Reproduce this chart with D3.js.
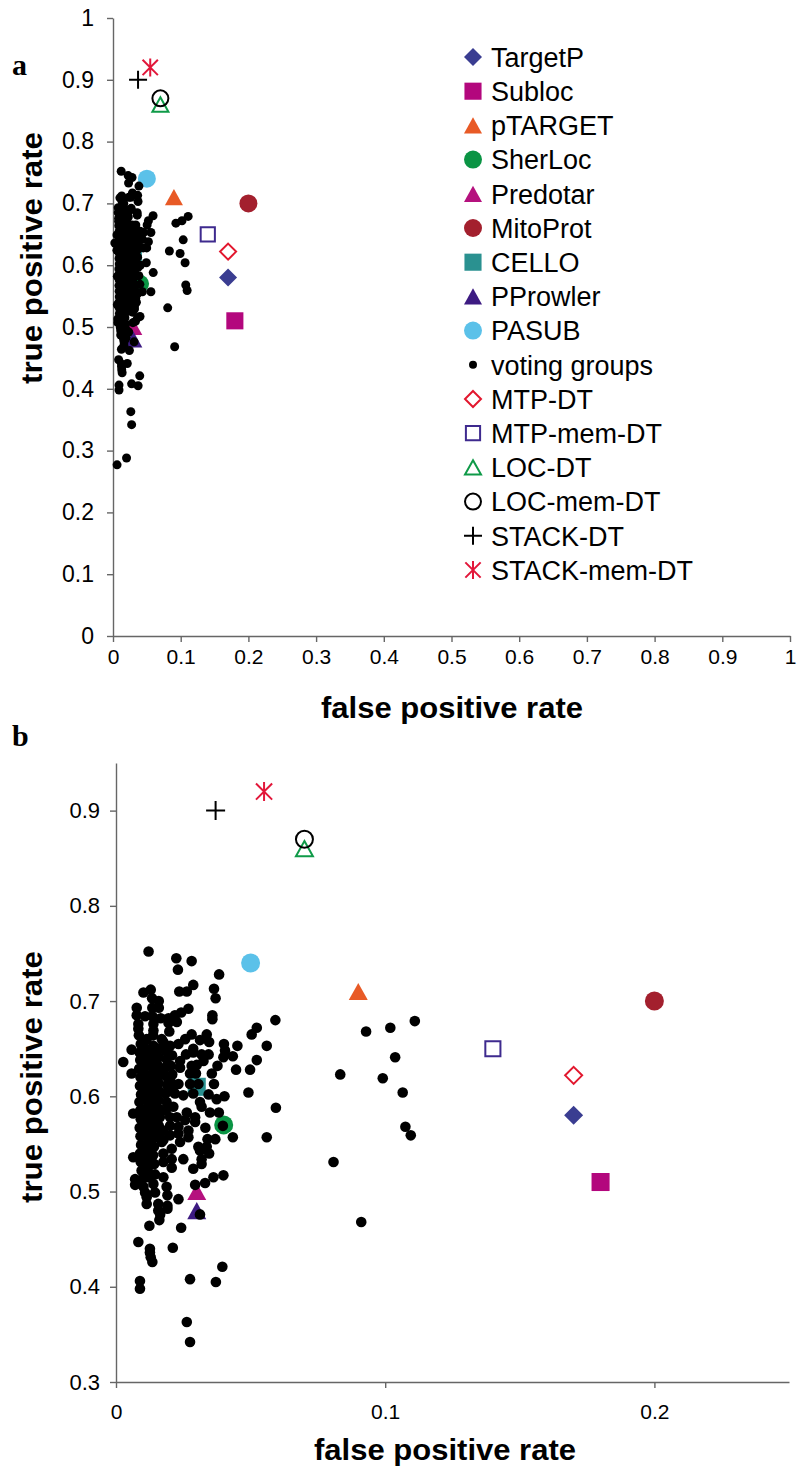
<!DOCTYPE html>
<html><head><meta charset="utf-8">
<script src="https://cdn.jsdelivr.net/npm/d3@7"></script>
<style>body{margin:0;background:#fff}svg{display:block}</style>
</head><body><svg id="c" width="802" height="1467"></svg>
<script>
// ---------- DATA ----------
const toolNames = ["TargetP","Subloc","pTARGET","SherLoc","Predotar","MitoProt","CELLO","PProwler","PASUB",
  "MTP-DT","MTP-mem-DT","LOC-DT","LOC-mem-DT","STACK-DT","STACK-mem-DT"];
const toolFpr = [0.17,0.18,0.09,0.04,0.03,0.20,0.03,0.03,0.05, 0.17,0.14,0.07,0.07,0.037,0.055];
const toolTpr = [0.58,0.51,0.71,0.57,0.50,0.70,0.61,0.48,0.74, 0.622,0.65,0.86,0.87,0.90,0.92];
const legendOrder = ["TargetP","Subloc","pTARGET","SherLoc","Predotar","MitoProt","CELLO","PProwler","PASUB",
  "voting groups","MTP-DT","MTP-mem-DT","LOC-DT","LOC-mem-DT","STACK-DT","STACK-mem-DT"];

// voting groups: [false positive rate, true positive rate]
const votingGroups = [
 [0.0121,0.752],[0.0224,0.745],[0.0230,0.733],[0.0281,0.742],[0.0383,0.728],[0.0287,0.717],[0.0235,0.710],[0.0263,0.710],
 [0.0364,0.713],[0.0370,0.703],[0.0102,0.709],[0.0129,0.712],[0.0134,0.703],[0.0159,0.700],[0.0135,0.693],[0.0159,0.693],
 [0.0077,0.693],[0.0077,0.685],[0.0108,0.684],[0.0135,0.684],[0.0166,0.682],[0.0195,0.682],[0.0219,0.685],[0.0242,0.688],
 [0.0269,0.692],[0.0226,0.678],[0.0195,0.677],[0.0083,0.676],[0.0083,0.671],[0.0139,0.676],[0.0139,0.669],[0.0198,0.668],
 [0.0358,0.685],[0.0358,0.681],[0.0592,0.680],[0.0523,0.672],[0.0504,0.665],[0.0281,0.665],[0.0257,0.660],[0.0232,0.655],
 [0.0337,0.665],[0.0346,0.657],[0.0312,0.659],[0.0401,0.655],[0.0451,0.653],[0.0560,0.653],[0.0114,0.660],[0.0170,0.660],
 [0.0176,0.657],[0.0139,0.653],[0.0201,0.653],[0.0287,0.650],[0.0058,0.649],
 [0.0027,0.636],[0.0058,0.624],[0.0064,0.582],[0.0064,0.536],[0.0071,0.513],[0.0071,0.507],[0.0405,0.648],[0.0399,0.641],
 [0.0434,0.642],[0.0523,0.638],[0.0446,0.628],[0.0498,0.628],[0.0492,0.604],[0.0594,0.588],[0.0560,0.557],[0.0434,0.557],
 [0.0399,0.517],[0.0362,0.515],[0.0331,0.509],[0.0294,0.507],[0.0250,0.534],[0.0287,0.524],[0.0318,0.534],[0.0318,0.529],
 [0.0346,0.540],[0.0369,0.555],[0.0340,0.555],[0.0332,0.567],[0.0403,0.600],[0.0374,0.597],[0.0364,0.613],[0.0344,0.602],
 [0.0382,0.583],[0.0349,0.583],[0.0397,0.569],[0.0377,0.632],[0.0356,0.624],[0.0344,0.644],[0.0318,0.644],[0.0287,0.646],
 [0.0260,0.644],[0.0281,0.632],[0.0300,0.633],[0.0325,0.637],[0.0238,0.637],[0.0238,0.630],[0.0275,0.624],[0.0297,0.624],
 [0.0232,0.613],[0.0275,0.613],[0.0306,0.613],[0.0219,0.603],[0.0250,0.601],[0.0287,0.603],[0.0312,0.594],[0.0318,0.589],
 [0.0213,0.589],[0.0201,0.578],[0.0226,0.578],[0.0263,0.583],[0.0257,0.575],[0.0294,0.578],[0.0294,0.573],[0.0269,0.564],
 [0.0269,0.557],[0.0232,0.568],[0.0232,0.561],[0.0201,0.569],[0.0201,0.559],[0.0176,0.564],[0.0176,0.554],[0.0207,0.545],
 [0.0238,0.552],[0.0170,0.552],[0.0176,0.540],[0.0207,0.534],[0.0176,0.531],[0.0145,0.518],[0.0176,0.515],[0.0207,0.525],
 [0.0306,0.547],[0.0312,0.543],[0.0337,0.547],[0.0188,0.505],[0.0139,0.508],
 [0.0085,0.664],[0.0092,0.655],[0.0088,0.646],[0.0090,0.638],[0.0086,0.629],[0.0091,0.620],[0.0089,0.611],[0.0093,0.602],
 [0.0087,0.594],[0.0090,0.585],[0.0092,0.576],[0.0088,0.567],[0.0091,0.558],[0.0093,0.549],[0.0089,0.540],[0.0092,0.531],
 [0.0095,0.522],[0.0098,0.513],[0.0102,0.505],
 [0.0113,0.650],[0.0111,0.641],[0.0114,0.632],[0.0110,0.623],[0.0112,0.614],[0.0115,0.605],[0.0111,0.596],[0.0113,0.587],
 [0.0116,0.578],[0.0112,0.569],[0.0114,0.560],[0.0117,0.551],[0.0113,0.542],[0.0116,0.533],[0.0118,0.524],[0.0120,0.515],
 [0.0138,0.664],[0.0137,0.646],[0.0135,0.637],[0.0139,0.628],[0.0136,0.619],[0.0134,0.610],[0.0138,0.601],[0.0136,0.592],
 [0.0140,0.583],[0.0137,0.574],[0.0135,0.565],[0.0139,0.556],[0.0141,0.547],[0.0138,0.538],[0.0142,0.529],
 [0.0155,0.650],[0.0159,0.641],[0.0156,0.632],[0.0160,0.623],[0.0158,0.614],[0.0162,0.605],[0.0157,0.596],[0.0160,0.587],
 [0.0163,0.578],[0.0159,0.569],[0.0161,0.560],
 [0.0184,0.648],[0.0188,0.639],[0.0182,0.630],[0.0186,0.621],[0.0190,0.612],[0.0184,0.603],[0.0188,0.594],[0.0185,0.585],
 [0.0208,0.643],[0.0204,0.632],[0.0209,0.623],[0.0206,0.614],[0.0211,0.605],
 [0.0108,0.499],[0.0114,0.494],[0.0114,0.487],[0.0145,0.499],[0.0191,0.496],[0.0232,0.492],[0.0157,0.487],[0.0157,0.480],
 [0.0191,0.485],[0.0191,0.482],[0.0164,0.476],[0.0161,0.470],[0.0124,0.464],[0.0242,0.462],[0.0312,0.476],[0.0083,0.447],
 [0.0126,0.440],[0.0126,0.436],[0.0129,0.431],[0.0135,0.426],[0.0211,0.441],[0.0395,0.421],[0.0275,0.408],[0.0371,0.405],
 [0.0089,0.406],[0.0089,0.398],[0.0263,0.363],[0.0275,0.342],
 [0.0929,0.668],[0.1019,0.672],[0.1110,0.679],[0.0833,0.623],[0.0991,0.619],[0.1037,0.641],[0.1065,0.604],[0.1075,0.568],
 [0.1095,0.559],[0.0808,0.531],[0.0911,0.468],
 [0.0060,0.277],[0.0200,0.288]
];

const aTicks = [0,0.1,0.2,0.3,0.4,0.5,0.6,0.7,0.8,0.9,1];
const aTickLabels = ["0","0.1","0.2","0.3","0.4","0.5","0.6","0.7","0.8","0.9","1"];
const bXTicks = [0,0.1,0.2];
const bXTickLabels = ["0","0.1","0.2"];
const bYTicks = [0.3,0.4,0.5,0.6,0.7,0.8,0.9];
const bYTickLabels = ["0.3","0.4","0.5","0.6","0.7","0.8","0.9"];

// ---------- STYLE ----------
const markerStyle = {
  "TargetP":{shape:"diamond",color:"#3a3d91",fill:true},
  "Subloc":{shape:"square",color:"#b3077d",fill:true},
  "pTARGET":{shape:"triangle",color:"#e85a26",fill:true},
  "SherLoc":{shape:"circle",color:"#0a9444",fill:true},
  "Predotar":{shape:"triangle",color:"#b5117e",fill:true},
  "MitoProt":{shape:"circle",color:"#a3202e",fill:true},
  "CELLO":{shape:"square",color:"#2a9190",fill:true},
  "PProwler":{shape:"triangle",color:"#3d1b82",fill:true},
  "PASUB":{shape:"circle",color:"#5bc1e9",fill:true},
  "voting groups":{shape:"dot",color:"#000",fill:true},
  "MTP-DT":{shape:"diamond",color:"#e2172e",fill:false},
  "MTP-mem-DT":{shape:"square",color:"#3e2a8e",fill:false},
  "LOC-DT":{shape:"triangle",color:"#0f9a48",fill:false},
  "LOC-mem-DT":{shape:"circle",color:"#000",fill:false},
  "STACK-DT":{shape:"plus",color:"#000",fill:false},
  "STACK-mem-DT":{shape:"asterisk",color:"#e2173a",fill:false}
};
const FONT = "'Liberation Sans', Arial, sans-serif";

function drawMarker(g, name, x, y, s) {
  const st = markerStyle[name];
  const c = st.color;
  let el;
  if (st.shape === "circle" || st.shape === "dot") {
    el = g.append("circle").attr("cx", x).attr("cy", y).attr("r", st.fill ? s : s - 1);
  } else {
    let d;
    if (st.shape === "diamond") { const k = st.fill ? s : s - 1; d = `M0,${-k}L${k},0L0,${k}L${-k},0Z`; }
    else if (st.shape === "square") { const k = st.fill ? s * 0.95 : s * 0.9 - 1; d = `M${-k},${-k}H${k}V${k}H${-k}Z`; }
    else if (st.shape === "triangle") { const k = st.fill ? s : s - 1; d = `M0,${-0.9*k}L${k},${0.9*k}L${-k},${0.9*k}Z`; }
    else if (st.shape === "plus") { d = `M${-s},0H${s}M0,${-s}V${s}`; }
    else if (st.shape === "asterisk") { const k = s * 0.85; d = `M0,${-s}V${s}M${-k},${-k}L${k},${k}M${k},${-k}L${-k},${k}`; }
    el = g.append("path").attr("d", d).attr("transform", `translate(${x},${y})`);
  }
  if (st.fill) el.attr("fill", c).attr("stroke", "none");
  else el.attr("fill", "none").attr("stroke", c).attr("stroke-width", 2);
}

const svg = d3.select("#c");
svg.append("rect").attr("width", 802).attr("height", 1467).attr("fill", "#fff");

function styleAxis(g, fs) {
  g.attr("font-size", fs).attr("font-family", FONT);
  g.select(".domain").attr("stroke", "#666").attr("stroke-width", 1.4);
  g.selectAll(".tick line").attr("stroke", "#666").attr("stroke-width", 1.4);
  g.selectAll(".tick text").attr("fill", "#000").attr("font-family", FONT).attr("font-size", fs);
}

function drawPanel(cfg) {
  const g = svg.append("g");
  const x = d3.scaleLinear().domain(cfg.xDomain).range(cfg.xRange);
  const y = d3.scaleLinear().domain(cfg.yDomain).range(cfg.yRange);
  const gx = g.append("g").attr("transform", `translate(0,${cfg.yRange[0]})`)
    .call(d3.axisBottom(x).tickValues(cfg.xTicks).tickFormat((d, i) => cfg.xLabels[i]).tickSize(6).tickSizeOuter(0).tickPadding(cfg.xPad));
  styleAxis(gx, cfg.xfs);
  const gy = g.append("g").attr("transform", `translate(${cfg.xRange[0]},0)`)
    .call(d3.axisLeft(y).tickValues(cfg.yTicks).tickFormat((d, i) => cfg.yLabels[i]).tickSize(6).tickSizeOuter(0).tickPadding(cfg.yPad));
  styleAxis(gy, cfg.yfs);

  const inDom = (fx, ty) => fx >= cfg.xDomain[0] && fx <= cfg.xDomain[1] && ty >= cfg.yDomain[0] && ty <= cfg.yDomain[1];
  const filled = toolNames.filter(n => markerStyle[n].fill);
  const open = toolNames.filter(n => !markerStyle[n].fill);
  filled.forEach(n => { const i = toolNames.indexOf(n); drawMarker(g, n, x(toolFpr[i]), y(toolTpr[i]), cfg.ms); });
  votingGroups.filter(p => inDom(p[0], p[1])).forEach(p => drawMarker(g, "voting groups", x(p[0]), y(p[1]), cfg.dot));
  open.forEach(n => { const i = toolNames.indexOf(n); drawMarker(g, n, x(toolFpr[i]), y(toolTpr[i]), cfg.ms); });

  g.append("text").attr("x", cfg.xt[0]).attr("y", cfg.xt[1]).attr("text-anchor", "middle")
    .attr("font-family", FONT).attr("font-weight", "bold").attr("font-size", 29)
    .attr("textLength", 262).attr("lengthAdjust", "spacingAndGlyphs").text("false positive rate");
  g.append("text").attr("transform", `translate(${cfg.yt[0]},${cfg.yt[1]}) rotate(-90)`).attr("text-anchor", "middle")
    .attr("font-family", FONT).attr("font-weight", "bold").attr("font-size", 29)
    .attr("textLength", 252).attr("lengthAdjust", "spacingAndGlyphs").text("true positive rate");
  g.append("text").attr("x", cfg.lab[0]).attr("y", cfg.lab[1]).attr("font-family", "'Liberation Serif','Times New Roman',serif")
    .attr("font-weight", "bold").attr("font-size", 30).text(cfg.label);
  return g;
}

const ga = drawPanel({xDomain:[0,1], xRange:[113,790], yDomain:[0,1], yRange:[636,18],
  xTicks:aTicks, xLabels:aTickLabels, yTicks:aTicks, yLabels:aTickLabels, xPad:7, yPad:13, xfs:21, yfs:23,
  ms:9, dot:4.5, xt:[452,718], yt:[42,258], lab:[12,75], label:"a"});

const gb = drawPanel({xDomain:[0,0.25], xRange:[116,789], yDomain:[0.3,0.95], yRange:[1382,763],
  xTicks:bXTicks, xLabels:bXTickLabels, yTicks:bYTicks, yLabels:bYTickLabels, xPad:16, yPad:10, xfs:21, yfs:22,
  ms:9.5, dot:5.3, xt:[445,1460], yt:[42,1077], lab:[12,746], label:"b"});

// legend (panel a)
const lg = svg.append("g");
legendOrder.forEach((n, i) => {
  const cy = 57 + i * 34.2;
  drawMarker(lg, n, 473, cy, n === "voting groups" ? 4 : 9);
  lg.append("text").attr("x", 491).attr("y", cy).attr("dy", "0.36em").attr("font-family", FONT)
    .attr("font-size", 27).attr("fill", "#000").text(n);
});
</script></body></html>
